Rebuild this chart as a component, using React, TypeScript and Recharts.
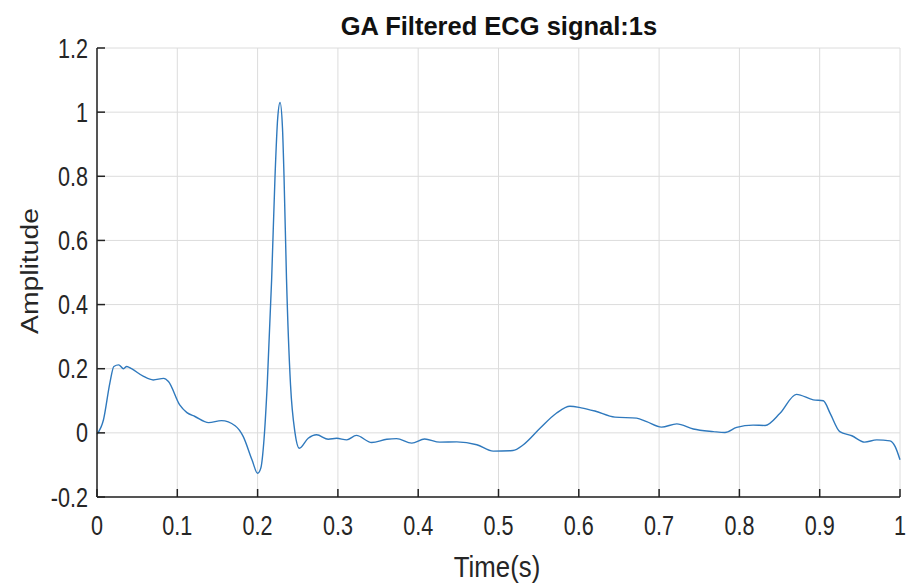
import React from 'react';
import { LineChart, Line, XAxis, YAxis, CartesianGrid } from 'recharts';

// time (s) and filtered amplitude
const times = [
  0, 0.008, 0.016, 0.021, 0.027, 0.033, 0.037, 0.043, 0.058, 0.07, 0.083, 0.089,
  0.103, 0.112, 0.122, 0.139, 0.155, 0.172, 0.182, 0.193, 0.2, 0.204, 0.208, 0.212,
  0.2175, 0.2217, 0.225, 0.228, 0.231, 0.2329, 0.236, 0.241, 0.2466, 0.252, 0.263,
  0.2735, 0.288, 0.2985, 0.311, 0.323, 0.342, 0.361, 0.373, 0.392, 0.408, 0.427,
  0.448, 0.473, 0.4935, 0.518, 0.531, 0.552, 0.572, 0.589, 0.603, 0.62, 0.645,
  0.672, 0.6845, 0.703, 0.722, 0.7426, 0.7675, 0.782, 0.7966, 0.817, 0.832, 0.8506,
  0.871, 0.892, 0.9045, 0.913, 0.925, 0.94, 0.956, 0.971, 0.9875, 0.994, 1.0,
];
const amps = [
  -0.004, 0.04, 0.155, 0.207, 0.212, 0.2, 0.207, 0.2, 0.176, 0.165, 0.17, 0.16,
  0.087, 0.063, 0.051, 0.032, 0.038, 0.022, -0.011, -0.084, -0.126, -0.11, -0.02, 0.15,
  0.48, 0.8, 0.98, 1.03, 0.95, 0.8, 0.48, 0.15, 0, -0.048, -0.017,
  -0.006, -0.02, -0.017, -0.022, -0.008, -0.03, -0.02, -0.018, -0.032, -0.019, -0.029,
  -0.028, -0.037, -0.057, -0.055, -0.037, 0.015, 0.061, 0.083, 0.078, 0.068, 0.049,
  0.046, 0.035, 0.018, 0.028, 0.012, 0.004, 0.001, 0.017, 0.024, 0.023, 0.061,
  0.12, 0.103, 0.1, 0.061, 0.004, -0.009, -0.029, -0.022, -0.025, -0.043, -0.084,
];

const xTicks = [0, 0.1, 0.2, 0.3, 0.4, 0.5, 0.6, 0.7, 0.8, 0.9, 1];
const yTicks = [-0.2, 0, 0.2, 0.4, 0.6, 0.8, 1, 1.2];

const data = times.map((t, i) => ({ t, amp: amps[i] }));

const FONT = '"Liberation Sans", Arial, sans-serif';

const XTick = (props: any) => {
  const { x, y, payload } = props;
  return (
    <text transform={`translate(${x},${y + 28}) scale(0.8,1)`} textAnchor="middle"
      fontSize={27} fontFamily={FONT} fill="#262626">
      {String(payload.value)}
    </text>
  );
};

const YTick = (props: any) => {
  const { x, y, payload } = props;
  return (
    <text transform={`translate(${x},${y + 9.5}) scale(0.8,1)`} textAnchor="end"
      fontSize={27} fontFamily={FONT} fill="#262626">
      {String(payload.value)}
    </text>
  );
};

export default function App() {
  return (
    <div style={{ position: 'absolute', left: 0, top: 0, width: 907, height: 584, background: '#fff' }}>
      <LineChart width={907} height={584} data={data}
        margin={{ top: 48, right: 7, bottom: 0, left: 0 }}>
        <CartesianGrid stroke="#dcdcdc" strokeWidth={1} />
        <XAxis dataKey="t" type="number" domain={[0, 1]} ticks={xTicks} height={87}
          interval={0} stroke="#222" strokeWidth={1.5} tickSize={-8} tickMargin={18}
          tick={<XTick />} />
        <XAxis xAxisId="top" orientation="top" type="number" domain={[0, 1]} ticks={xTicks}
          height={0} interval={0} stroke="#222" strokeWidth={1.5} tickSize={-8} tick={false} />
        <YAxis type="number" domain={[-0.2, 1.2]} ticks={yTicks} width={97} interval={0}
          stroke="#222" strokeWidth={1.5} tickSize={-8} tickMargin={17} tick={<YTick />}
          allowDataOverflow />
        <YAxis yAxisId="right" orientation="right" type="number" domain={[-0.2, 1.2]} ticks={yTicks}
          width={0} interval={0} stroke="#222" strokeWidth={1.5} tickSize={-8} tick={false} />
        <Line type="monotone" dataKey="amp" stroke="#2f79bd" strokeWidth={1.4} dot={false}
          isAnimationActive={false} />
      </LineChart>
      <svg width={907} height={584} style={{ position: 'absolute', left: 0, top: 0, pointerEvents: 'none' }}>
        <text x={499} y={35} textAnchor="middle" fontFamily={FONT} fontWeight="bold"
          fontSize={25.5} fill="#111">
          GA Filtered ECG signal:1s
        </text>
        <text transform="translate(497,577) scale(0.86,1)" textAnchor="middle" fontFamily={FONT}
          fontSize={30} fill="#262626">
          Time(s)
        </text>
        <text transform="translate(38,271) rotate(-90) scale(1.18,1)" textAnchor="middle"
          fontFamily={FONT} fontSize={24} fill="#262626">
          Amplitude
        </text>
      </svg>
    </div>
  );
}
